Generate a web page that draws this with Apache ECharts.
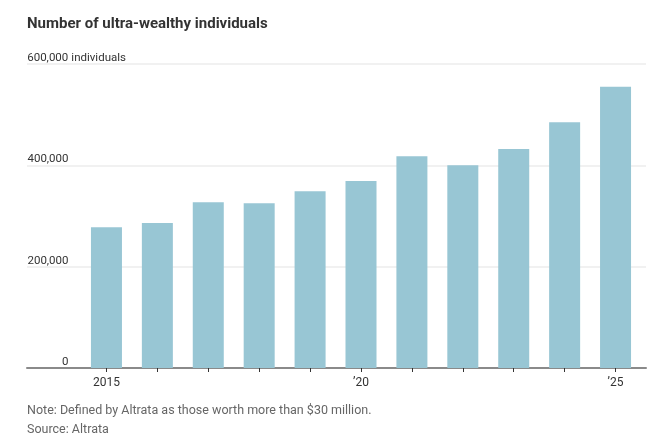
<!DOCTYPE html>
<html>
<head>
<meta charset="utf-8">
<title>Number of ultra-wealthy individuals</title>
<script src="https://cdn.jsdelivr.net/npm/echarts@6/dist/echarts.min.js"></script>
<style>
    html, body { margin: 0; padding: 0; background: #fff; }
    #chart { width: 656px; height: 442px; }
</style>
</head>
<body>
<div id="chart"></div>
<script>
// data
const years = ['2015', '2016', '2017', '2018', '2019', '2020', '2021', '2022', '2023', '2024', '2025'];
const yearLabels = { '2015': '2015', '2020': '\u201920', '2025': '\u201925' };
const individuals = [278000, 286000, 327000, 325000, 349000, 369000, 418000, 400000, 432000, 485000, 555000];
const yTicks = [0, 200000, 400000, 600000];

const FONT = 'Roboto, "Noto Sans", sans-serif';
const yMax = yTicks[yTicks.length - 1];

const chart = echarts.init(document.getElementById('chart'));

const option = {
    animation: false,
    title: {
        text: 'Number of ultra-wealthy individuals',
        left: 27,
        top: 17,
        padding: 0,
        textStyle: { fontFamily: FONT, fontSize: 15, fontWeight: 'bold', color: '#333' }
    },
    // grid 0: full-width gridlines, y labels and baseline
    // grid 1: the bars (narrower, like the reference)
    grid: [
        { left: 27, right: 10, top: 64, bottom: 74 },
        { left: 81, right: 15, top: 64, bottom: 74 }
    ],
    xAxis: [
        {
            type: 'value', gridIndex: 0, min: 0, max: 1,
            axisLine: { show: true, onZero: false, lineStyle: { color: '#8a8a8a', width: 2 } },
            axisTick: { show: false },
            axisLabel: { show: false },
            splitLine: { show: false }
        },
        {
            type: 'category', gridIndex: 1, data: years,
            axisLine: { show: false },
            axisTick: { show: true, alignWithLabel: true, interval: 0, length: 4, lineStyle: { color: '#333' } },
            axisLabel: {
                interval: 0,
                margin: 9,
                fontFamily: FONT, fontSize: 12, color: '#333',
                formatter: function (v) { return yearLabels[v] || ''; }
            }
        }
    ],
    yAxis: [
        {
            type: 'value', gridIndex: 0, min: 0, max: yMax, interval: 200000,
            axisLine: { show: false },
            axisTick: { show: false },
            splitLine: { show: true, lineStyle: { color: '#ececec', width: 1.5 } },
            axisLabel: {
                inside: true,
                margin: 0,
                align: 'left',
                verticalAlign: 'bottom',
                padding: 0,
                fontFamily: FONT, fontSize: 11.5, color: '#333',
                formatter: function (v) {
                    const s = v.toLocaleString('en-US');
                    return v === yMax ? '{n|' + s + '} individuals' : '{n|' + s + '}';
                },
                rich: {
                    n: { width: 41.5, align: 'right', fontFamily: FONT, fontSize: 11.5, color: '#333' }
                }
            }
        },
        {
            type: 'value', gridIndex: 1, min: 0, max: yMax, interval: 200000,
            show: false
        }
    ],
    series: [
        {
            type: 'bar',
            xAxisIndex: 1,
            yAxisIndex: 1,
            data: individuals,
            barWidth: 31,
            itemStyle: { color: '#98c6d4' }
        }
    ],
    graphic: [
        {
            type: 'text', left: 27, top: 404,
            style: {
                text: 'Note: Defined by Altrata as those worth more than $30 million.',
                fontFamily: FONT, fontSize: 12.5, fill: '#666'
            }
        },
        {
            type: 'text', left: 27, top: 423,
            style: { text: 'Source: Altrata', fontFamily: FONT, fontSize: 12.5, fill: '#666' }
        }
    ]
};

chart.setOption(option);
</script>
</body>
</html>
